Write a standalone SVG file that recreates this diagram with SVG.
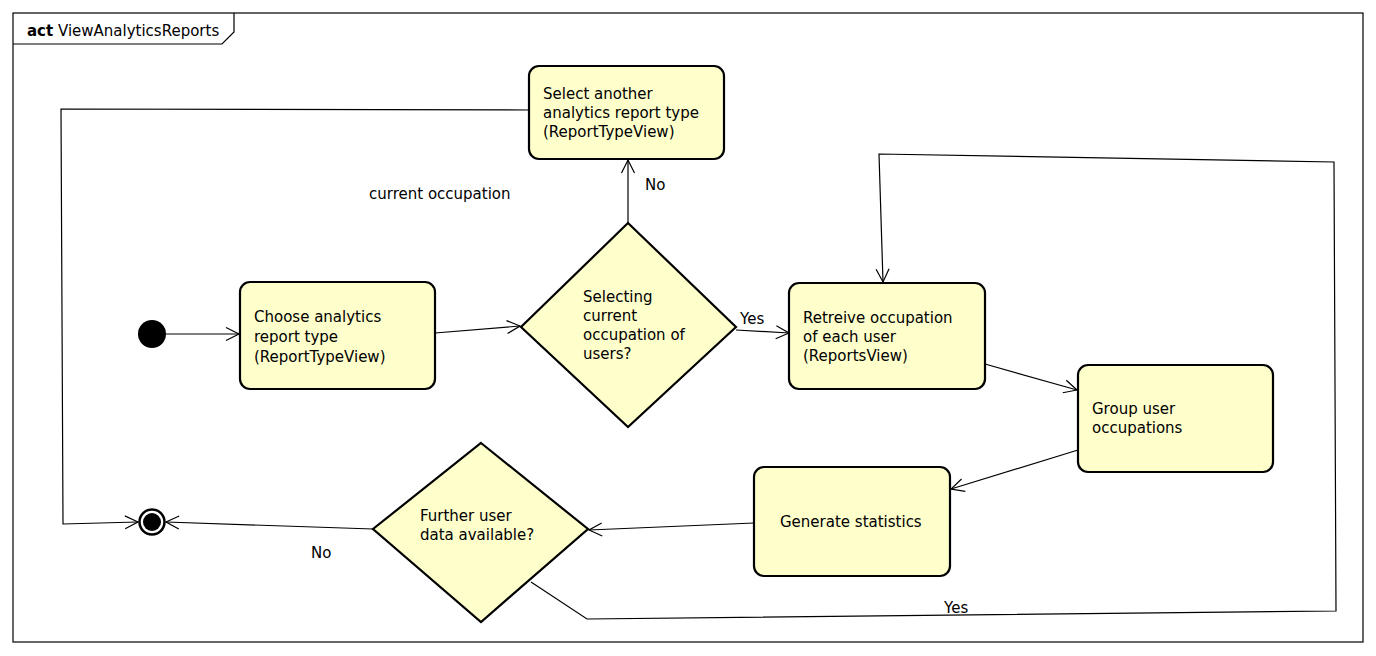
<svg xmlns="http://www.w3.org/2000/svg" width="1376" height="656" viewBox="0 0 1376 656">
<style>
.node{fill:#FFFFCC;stroke:#000;stroke-width:2.2}
.t{font-family:"DejaVu Sans",sans-serif;font-size:15px;fill:#000}
.c{fill:none;stroke:#000;stroke-width:1.2}
.lbl{font-family:"DejaVu Sans",sans-serif;font-size:15px;fill:#000}
</style>
<defs>
<marker id="arr" viewBox="-14 -8 16 16" refX="0" refY="0" markerWidth="16" markerHeight="16" markerUnits="userSpaceOnUse" orient="auto">
<path d="M-13,-6.5 L0,0 L-13,6.5" fill="none" stroke="#000" stroke-width="1.2"/>
</marker>
</defs>
<rect width="1376" height="656" fill="#fff"/>
<g id="frame">
<rect x="13" y="13" width="1350" height="629" fill="none" stroke="#000" stroke-width="1.2"/>
<path d="M13,44 L222,44 L234,32 L234,13" fill="none" stroke="#000" stroke-width="1.2"/>
<text x="27" y="36" class="t"><tspan font-weight="bold">act</tspan> ViewAnalyticsReports</text>
</g>
<g id="connectors">
<line class="c" x1="166" y1="334" x2="239" y2="334" marker-end="url(#arr)"/>
<line class="c" x1="435" y1="333" x2="520" y2="326" marker-end="url(#arr)"/>
<line class="c" x1="628" y1="223" x2="628" y2="160" marker-end="url(#arr)"/>
<line class="c" x1="736" y1="330" x2="789" y2="333" marker-end="url(#arr)"/>
<line class="c" x1="985" y1="364" x2="1077" y2="390" marker-end="url(#arr)"/>
<line class="c" x1="1078" y1="450" x2="951" y2="489" marker-end="url(#arr)"/>
<line class="c" x1="754" y1="523" x2="589" y2="530" marker-end="url(#arr)"/>
<line class="c" x1="373" y1="529" x2="166" y2="522" marker-end="url(#arr)"/>
<polyline class="c" points="529,110 61,109 63,524 138,522" marker-end="url(#arr)"/>
<polyline class="c" points="531,582 587,619 1336,611 1334,162 879,154 883,282" marker-end="url(#arr)"/>
<text x="645" y="190" class="lbl">No</text>
<text x="740" y="324" class="lbl">Yes</text>
<text x="311" y="558" class="lbl">No</text>
<text x="944" y="613" class="lbl">Yes</text>
<text x="369" y="199" class="lbl">current occupation</text>
</g>
<g id="start">
<circle cx="152" cy="334" r="14" fill="#000"/>
</g>
<g id="end">
<circle cx="152" cy="522" r="12.5" fill="#fff" stroke="#000" stroke-width="2.5"/>
<circle cx="152" cy="522" r="9" fill="#000"/>
</g>
<g id="choose">
<rect class="node" x="240" y="282" width="195" height="107" rx="10"/>
<text class="t" x="254"><tspan x="254" y="322">Choose analytics</tspan><tspan x="254" y="342">report type</tspan><tspan x="254" y="362">(ReportTypeView)</tspan></text>
</g>
<g id="decision1">
<polygon class="node" points="628,223 736,327 628,427 521,327"/>
<text class="t"><tspan x="583" y="302">Selecting</tspan><tspan x="583" y="321">current</tspan><tspan x="583" y="340">occupation of</tspan><tspan x="583" y="359">users?</tspan></text>
</g>
<g id="selectAnother">
<rect class="node" x="529" y="66" width="195" height="93" rx="10"/>
<text class="t"><tspan x="543" y="99">Select another</tspan><tspan x="543" y="118">analytics report type</tspan><tspan x="543" y="137">(ReportTypeView)</tspan></text>
</g>
<g id="retrieve">
<rect class="node" x="789" y="283" width="196" height="106" rx="10"/>
<text class="t"><tspan x="803" y="323">Retreive occupation</tspan><tspan x="803" y="342">of each user</tspan><tspan x="803" y="361">(ReportsView)</tspan></text>
</g>
<g id="group">
<rect class="node" x="1078" y="365" width="195" height="107" rx="10"/>
<text class="t"><tspan x="1092" y="414">Group user</tspan><tspan x="1092" y="433">occupations</tspan></text>
</g>
<g id="generate">
<rect class="node" x="754" y="467" width="196" height="109" rx="10"/>
<text class="t" x="780" y="527">Generate statistics</text>
</g>
<g id="decision2">
<polygon class="node" points="481,443 588,529 481,622 373,529"/>
<text class="t"><tspan x="420" y="521">Further user</tspan><tspan x="420" y="540">data available?</tspan></text>
</g>
</svg>
